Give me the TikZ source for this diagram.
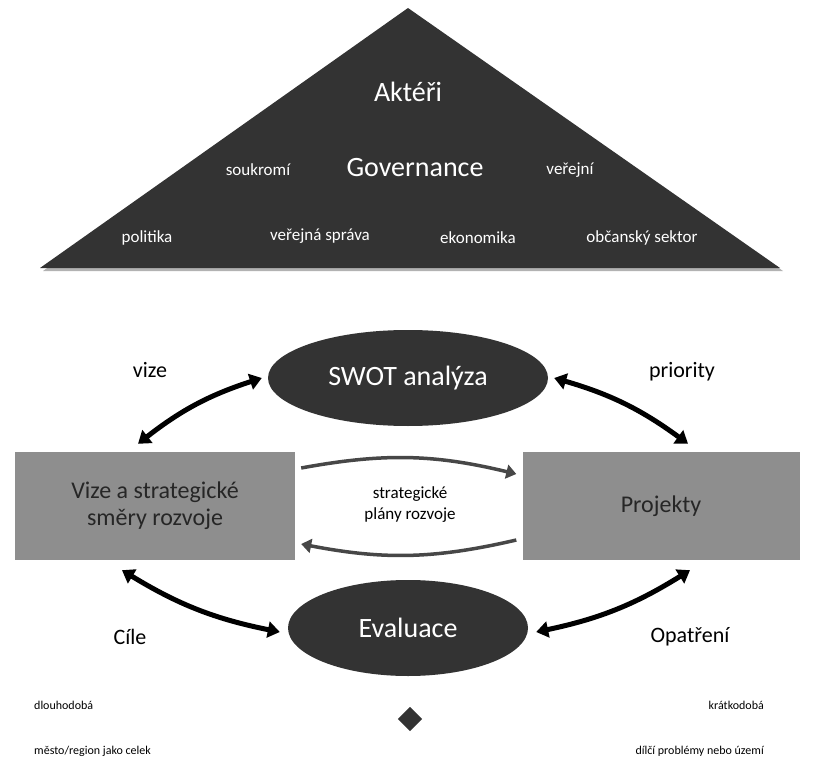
\documentclass[tikz,border=0pt]{standalone}
\usepackage{fontspec}
\setmainfont{Carlito}
\usetikzlibrary{shapes.geometric,arrows.meta,shapes.arrows}
\definecolor{dk}{HTML}{333333}
\definecolor{gr}{HTML}{8E8E8E}
\tikzset{
 wt/.style={text=white,inner sep=0},
 dbl/.style={line width=5pt,{Triangle[length=12pt,width=16pt]}-{Triangle[length=12pt,width=16pt]}},
 mid/.style={line width=3.5pt,draw=dk!90,-{Triangle[length=10pt,width=14pt]}},
 lbl/.style={font=\fontsize{22}{24}\selectfont,inner sep=0},
 sm/.style={font=\fontsize{12}{14}\selectfont,inner sep=0},
 box/.style={fill=gr,draw=none,minimum width=280pt,minimum height=108pt,align=center,font=\fontsize{24}{27}\selectfont,text=black!85}
}
\begin{document}
\begin{tikzpicture}[x=1pt,y=-1pt]
\useasboundingbox (0,0) rectangle (820,781);
% triangle
\fill[black!30] (411,11) -- (783,271) -- (43,271) -- cycle;
\fill[dk] (408,8) -- (780,268) -- (40,268) -- cycle;
\node[wt,font=\fontsize{28}{30}\selectfont] (akt) at (408,92) {Aktéři};
\node[wt,font=\fontsize{28}{30}\selectfont] (gov) at (415,168) {Governance};
\node[wt,font=\fontsize{17}{19}\selectfont] (sou) at (258,170) {soukromí};
\node[wt,font=\fontsize{17}{19}\selectfont] (ver) at (570,170) {veřejní};
\node[wt,font=\fontsize{17}{19}\selectfont] (pol) at (147,238) {politika};
\node[wt,font=\fontsize{17}{19}\selectfont] (vs) at (320,236) {veřejná správa};
\node[wt,font=\fontsize{17}{19}\selectfont] (eko) at (478,238) {ekonomika};
\node[wt,font=\fontsize{17}{19}\selectfont] (obc) at (642,238) {občanský sektor};
% ellipses
\node[ellipse,fill=dk,minimum width=280pt,minimum height=96pt,text=white,font=\fontsize{28}{30}\selectfont] (swot) at (408,378) {SWOT analýza};
\node[ellipse,fill=dk,minimum width=240pt,minimum height=96pt,text=white,font=\fontsize{28}{30}\selectfont] (eva) at (408,628) {Evaluace};
% boxes
\node[box] (vize) at (155,506) {Vize a strategické\\směry rozvoje};
\node[box,minimum width=277pt] (proj) at (661,506) {Projekty};
% double arrows
\draw[dbl] (swot.west) ++(-6,0) to[bend right=10] ([shift={(-17,-8)}]vize.north);
\draw[dbl] (swot.east) ++(6,0) to[bend left=10] ([shift={(27,-8)}]proj.north);
\draw[dbl] ([shift={(-33,10)}]vize.south) to[bend right=10] ([shift={(-8,4)}]eva.west);
\draw[dbl] ([shift={(29,10)}]proj.south) to[bend left=10] ([shift={(8,4)}]eva.east);
\node[lbl] (lv) at (150,370) {vize};
\node[lbl] (lp) at (682,372) {priority};
\node[lbl] (lc) at (130,637) {Cíle};
\node[lbl] (lo) at (690,637) {Opatření};
% middle arrows
\draw[mid] ([shift={(6,-38)}]vize.east) to[bend left=12] ([shift={(-6,-32)}]proj.west);
\draw[mid] ([shift={(-6,34)}]proj.west) to[bend left=12] ([shift={(6,38)}]vize.east);
\node[align=center,font=\fontsize{17}{21}\selectfont,inner sep=0] (sp) at (410,505) {strategické\\plány rozvoje};
% bottom arrow
\node[double arrow,fill=dk,minimum height=800pt,minimum width=44pt,double arrow head extend=0pt,inner sep=0,minimum size=24pt] (ba) at (410,719) {};
\node[wt,font=\fontsize{18}{20}\selectfont] (ori) at (220,727) {Orientace};
\node[wt,font=\fontsize{18}{20}\selectfont] (rea) at (570,727) {Realizace};
\node[sm,anchor=west] (dl) at (34,705) {dlouhodobá};
\node[sm,anchor=east] (kr) at (764,705) {krátkodobá};
\node[sm,anchor=west] (me) at (34,751) {město/region jako celek};
\node[sm,anchor=east] (di) at (764,751) {dílčí problémy nebo území};
\end{tikzpicture}
\end{document}
